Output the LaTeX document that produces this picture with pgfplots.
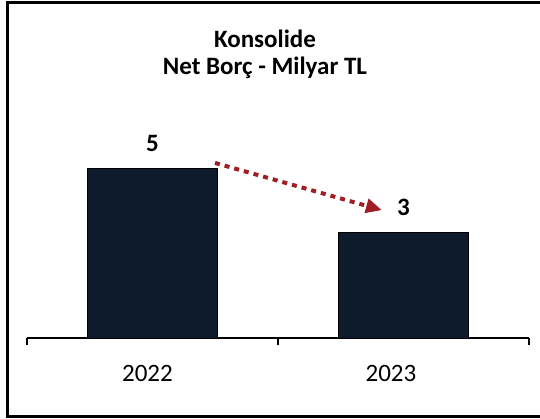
\documentclass[border=0pt]{standalone}
\usepackage{pgfplots}
\pgfplotsset{compat=1.18}
\usetikzlibrary{arrows.meta}
\usepackage{fontspec}
\setmainfont{Carlito}
\definecolor{barnavy}{RGB}{14,27,44}
\definecolor{arrowred}{RGB}{160,30,35}
\begin{document}
\begin{tikzpicture}[x=1pt,y=1pt]
\path[use as bounding box] (-27,-80) rectangle (513,338);
\draw[line width=3pt] (-19.5,335.5) -- (513,335.5);
\draw[line width=3pt] (-19.5,-78.5) -- (513,-78.5);
\draw[line width=3pt] (-19.5,337) -- (-19.5,-80);
\begin{axis}[
  at={(0,0)}, anchor=south west,
  scale only axis, width=502pt, height=238pt,
  xmin=-0.5, xmax=1.5, ymin=0, ymax=7,
  ybar, bar width=0.52,
  axis x line*=bottom, axis y line=none,
  x axis line style={-, line width=1.2pt},
  xtick={-0.02,0.95}, xticklabels={2022,2023}, major tick length=0pt,
  extra x ticks={-0.5,0.5,1.5}, extra x tick labels={},
  extra x tick style={major tick length=7pt, tick align=outside, tick style={line width=1.2pt, black}},
  ytick=\empty,
  xticklabel style={anchor=base, yshift=-43pt, font=\fontsize{25}{30}\selectfont},
  /pgf/number format/assume math mode=true,
  nodes near coords={\pgfmathprintnumber[fixed,precision=0,assume math mode=true]{\pgfplotspointmeta}},
  every node near coord/.append style={anchor=base, yshift=17pt, font=\bfseries\fontsize{25}{30}\selectfont, text=black},
  clip=false,
]
\addplot[fill=barnavy, draw=black, line width=1pt] coordinates {(0,5.0) (1,3.1)};
\draw[arrowred, line width=4pt, dash pattern=on 5pt off 5pt, -{Triangle[length=16pt,width=14pt]}] (axis cs:0.249,5.15) -- (axis cs:0.914,3.76);
\end{axis}
\node[anchor=base, font=\bfseries\fontsize{25}{30}\selectfont] at (238,290) {Konsolide};
\node[anchor=base, font=\bfseries\fontsize{25}{30}\selectfont] at (238,263) {Net Borç - Milyar TL};
\end{tikzpicture}
\end{document}
